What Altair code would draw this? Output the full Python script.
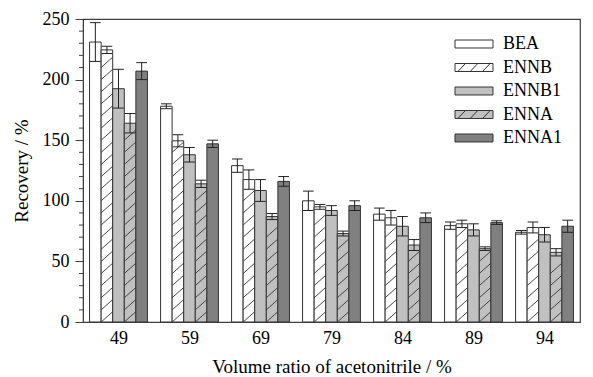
import json
import altair as alt
import pandas as pd

# ---------------- data ----------------
groups = ["49", "59", "69", "79", "84", "89", "94"]
series = ["BEA", "ENNB", "ENNB1", "ENNA", "ENNA1"]

bea = [231, 178, 129, 100, 89, 79.5, 74]
bea_err = [16, 2, 5.5, 8, 5, 3, 1.5]
ennb = [224.5, 149.5, 117.5, 95, 86, 81, 78]
ennb_err = [3, 5, 8, 2, 6, 3, 4.5]
ennb1 = [192.5, 138, 108.5, 92, 79, 76, 72]
ennb1_err = [16, 6, 9, 4, 8, 5, 6]
enna = [164, 114, 87, 73, 63.5, 60.5, 57.5]
enna_err = [8, 3, 2.5, 2, 4.5, 1.5, 3]
enna1 = [207, 147, 116, 96, 86, 82, 79]
enna1_err = [7, 3, 4, 4, 4, 1.5, 5]

y_major = [0, 50, 100, 150, 200, 250]
y_minor = [v for v in range(0, 251, 10) if v % 50 != 0]

# ---------------- styles ----------------
FONT = "Liberation Serif"
colors = ["#ffffff", "#ffffff", "#c0c0c0", "#c0c0c0", "#808080"]
hatched = ["ENNB", "ENNA"]
EDGE = "#333333"
FRAME = "#404040"
BW = 0.163          # bar width in group units
CW = 0.15           # cap width
HATCH_STEP = 10
HATCH_RISE = 8.5

values = {"BEA": bea, "ENNB": ennb, "ENNB1": ennb1, "ENNA": enna, "ENNA1": enna1}
errors = {"BEA": bea_err, "ENNB": ennb_err, "ENNB1": ennb1_err, "ENNA": enna_err, "ENNA1": enna1_err}

rows = []
for si, s in enumerate(series):
    for gi, g in enumerate(groups):
        rows.append(dict(group=g, gi=gi, series=s, si=si,
                         value=values[s][gi], err=errors[s][gi]))
df = pd.DataFrame(rows)

hrows = []
for s in hatched:
    si = series.index(s)
    for gi, v in enumerate(values[s]):
        b = 0.0
        while b + HATCH_RISE <= v:
            hrows.append(dict(gi=gi, si=si, y0=b, y1=b + HATCH_RISE))
            b += HATCH_STEP
hdf = pd.DataFrame(hrows)

minor_df = pd.DataFrame({"t": y_minor})

xpos = f"datum.gi + (datum.si - 2) * {BW}"
xscale = alt.Scale(domain=[-0.5, len(groups) - 0.5], nice=False, zero=False)
yscale = alt.Scale(domain=[0, 250], nice=False, zero=True)
fill_scale = alt.Scale(domain=series, range=colors)

label_expr = json.dumps(groups) + "[datum.value]"

base = alt.Chart(df).transform_calculate(
    xc=xpos,
    xl=f"{xpos} - {BW / 2}",
    xr=f"{xpos} + {BW / 2}",
    cl=f"{xpos} - {CW / 2}",
    cr=f"{xpos} + {CW / 2}",
    lo="datum.value - datum.err",
    hi="datum.value + datum.err",
    zero="0",
)

bars = base.mark_rect(stroke=EDGE, strokeWidth=1).encode(
    x=alt.X("xl:Q", scale=xscale,
            axis=alt.Axis(values=list(range(len(groups))), labelExpr=label_expr,
                          ticks=False, tickSize=0, labelPadding=7,
                          title="Volume ratio of acetonitrile / %",
                          titleY=50, titleBaseline="alphabetic")),
    x2="xr:Q",
    y=alt.Y("value:Q", scale=yscale,
            axis=alt.Axis(values=y_major, tickSize=8, labelPadding=6,
                          title="Recovery / %", titleX=-56, titleY=151.5,
                          titleBaseline="alphabetic", titleAlign="center")),
    y2="zero:Q",
    fill=alt.Fill("series:N", scale=fill_scale, legend=None),
)

hatch = alt.Chart(hdf).transform_calculate(
    hl=f"{xpos} - {BW / 2}",
    hr=f"{xpos} + {BW / 2}",
).mark_rule(color=EDGE, strokeWidth=0.9).encode(
    x=alt.X("hl:Q", scale=xscale),
    x2="hr:Q",
    y=alt.Y("y0:Q", scale=yscale),
    y2="y1:Q",
)

err_line = base.mark_rule(color="#222222", strokeWidth=1).encode(
    x=alt.X("xc:Q", scale=xscale),
    y=alt.Y("lo:Q", scale=yscale),
    y2="hi:Q",
)
cap_hi = base.mark_rule(color="#222222", strokeWidth=1).encode(
    x=alt.X("cl:Q", scale=xscale),
    x2="cr:Q",
    y=alt.Y("hi:Q", scale=yscale),
)
cap_lo = base.mark_rule(color="#222222", strokeWidth=1).encode(
    x=alt.X("cl:Q", scale=xscale),
    x2="cr:Q",
    y=alt.Y("lo:Q", scale=yscale),
)

minor = alt.Chart(minor_df).mark_rule(color=FRAME, strokeWidth=1).encode(
    y=alt.Y("t:Q", scale=yscale),
    x=alt.value(-4),
    x2=alt.value(0),
)

# legend (drawn inside the plot, upper right), one row per series
box = "M-1,-0.21H1V0.21H-1Z"
hatch_path = box + "M-0.85,0.21L-0.45,-0.21M-0.2,0.21L0.2,-0.21M0.45,0.21L0.85,-0.21"
legend_layers = []
for i, s in enumerate(series):
    ldf = pd.DataFrame({"series": [s]})
    yrow = 25 + 23.5 * i
    sw = alt.Chart(ldf).mark_point(
        filled=True, stroke=EDGE, strokeWidth=1, opacity=1, size=1444,
        shape=hatch_path if s in hatched else box,
    ).encode(
        x=alt.value(391),
        y=alt.value(yrow),
        fill=alt.Fill("series:N", scale=fill_scale, legend=None),
    )
    tx = alt.Chart(ldf).mark_text(
        align="left", baseline="middle", font=FONT, fontSize=18, color="black"
    ).encode(
        x=alt.value(420),
        y=alt.value(yrow),
        text="series:N",
    )
    legend_layers += [sw, tx]

chart = alt.layer(bars, hatch, err_line, cap_hi, cap_lo, minor, *legend_layers).properties(
    width=497,
    height=303,
    autosize=alt.AutoSizeParams(type="none"),
    padding={"left": 83, "top": 19, "right": 13, "bottom": 55},
).configure_view(
    stroke=FRAME, strokeWidth=1.2
).configure_axis(
    labelFont=FONT, titleFont=FONT, labelFontSize=18, titleFontSize=19,
    titleFontWeight="normal", labelColor="black", titleColor="black",
    domainColor=FRAME, tickColor=FRAME, grid=False,
)

chart.save("out.html", embed_options={"renderer": "svg", "actions": False})
